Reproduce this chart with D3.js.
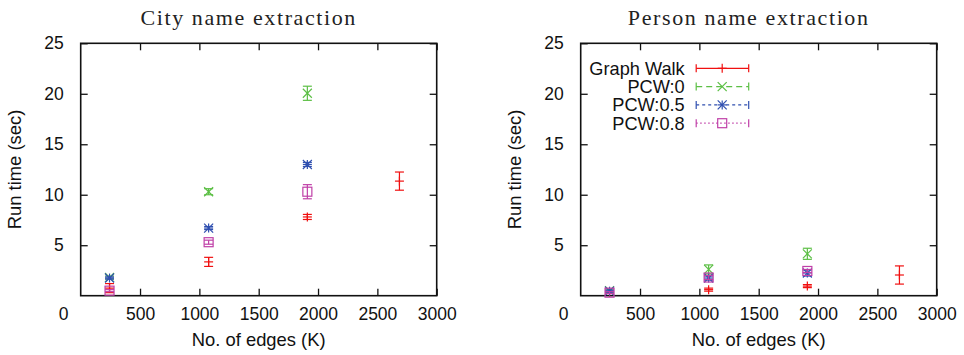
<!DOCTYPE html>
<html>
<head>
<meta charset="utf-8">
<script src="https://cdn.jsdelivr.net/npm/d3@7"></script>
<style>
  body { margin: 0; background: #fff; }
  svg text { font-family: "Liberation Sans", Arial, sans-serif; fill: #111; }
  .title { font-family: "Liberation Serif", "DejaVu Serif", serif; letter-spacing: 1.6px; fill: #222; }
</style>
</head>
<body>
<svg id="chart" width="964" height="355"></svg>
<script>
// x values (K edges) shared by both panels
const edges = [243, 1078, 1910, 2686];

// City name extraction: run time (sec) and error half-widths
const cityGW = [0.75, 3.35, 7.8, 11.35];
const cityGWErr = [0.45, 0.45, 0.25, 0.9];
const cityP0 = [1.8, 10.3, 20.05];
const cityP0Err = [0.15, 0.3, 0.7];
const cityP05 = [1.75, 6.7, 13.0];
const cityP05Err = [0.1, 0.15, 0.2];
const cityP08 = [0.5, 5.3, 10.3];
const cityP08Err = [0.1, 0.2, 0.7];

// Person name extraction
const personGW = [0.35, 0.6, 0.95, 2.05];
const personGWErr = [0.1, 0.15, 0.15, 0.9];
const personP0 = [0.5, 2.6, 4.15];
const personP0Err = [0.15, 0.45, 0.55];
const personP05 = [0.45, 1.75, 2.25];
const personP05Err = [0.1, 0.2, 0.3];
const personP08 = [0.3, 1.8, 2.45];
const personP08Err = [0.1, 0.2, 0.15];

const seriesNames = ["Graph Walk", "PCW:0", "PCW:0.5", "PCW:0.8"];
const seriesColors = ["#f01010", "#5cbf45", "#3050b0", "#c040a8"];
const seriesShapes = ["plus", "cross", "star", "square"];
const seriesDash = [null, "6,4", "3,3", "1.5,2.5"];

const xTicks = [500, 1000, 1500, 2000, 2500, 3000];
const yTicks = [5, 10, 15, 20, 25];

const panels = [
  { title: "City name extraction", left: 80.7,
    data: [[cityGW, cityGWErr], [cityP0, cityP0Err], [cityP05, cityP05Err], [cityP08, cityP08Err]] },
  { title: "Person name extraction", left: 580.7, legend: true,
    data: [[personGW, personGWErr], [personP0, personP0Err], [personP05, personP05Err], [personP08, personP08Err]] }
];

const W = 356, H = 252.4, plotTop = 43.3, tick = 7;
const svg = d3.select("#chart");

// draw one marker shape at 0,0
function marker(g, shape, color) {
  const s = 4.5;
  const line = (x1, y1, x2, y2) => g.append("line")
    .attr("x1", x1).attr("y1", y1).attr("x2", x2).attr("y2", y2)
    .attr("stroke", color).attr("stroke-width", 1.2);
  if (shape == "plus" || shape == "star") { line(-s, 0, s, 0); line(0, -s, 0, s); }
  if (shape == "cross" || shape == "star") { line(-s, -s, s, s); line(-s, s, s, -s); }
  if (shape == "square") {
    g.append("rect").attr("x", -s).attr("y", -s).attr("width", 2 * s).attr("height", 2 * s)
      .attr("fill", "none").attr("stroke", color).attr("stroke-width", 1.2);
  }
}

panels.forEach(p => {
  const x = d3.scaleLinear().domain([0, 3000]).range([0, W]);
  const y = d3.scaleLinear().domain([0, 25]).range([H, 0]);
  const g = svg.append("g").attr("transform", `translate(${p.left},${plotTop})`);

  // axes: ticks point inward, mirrored on top / right
  g.append("g").attr("transform", `translate(0,${H})`)
    .call(d3.axisBottom(x).tickValues(xTicks).tickSize(-tick).tickPadding(12).tickFormat(d3.format("d")));
  g.append("g").call(d3.axisTop(x).tickValues(xTicks).tickSize(-tick).tickFormat(""));
  g.append("g")
    .call(d3.axisLeft(y).tickValues(yTicks).tickSize(-tick).tickPadding(17).tickFormat(d3.format("d")));
  g.append("g").attr("transform", `translate(${W},0)`)
    .call(d3.axisRight(y).tickValues(yTicks).tickSize(-tick).tickFormat(""));
  g.selectAll(".domain").remove();
  g.selectAll(".tick line").attr("stroke", "#111").attr("stroke-width", 1.3);
  g.selectAll(".tick text").attr("font-size", 17.5).attr("fill", "#111")
    .attr("font-family", "Liberation Sans, Arial, sans-serif");
  g.append("rect").attr("width", W).attr("height", H)
    .attr("fill", "none").attr("stroke", "#111").attr("stroke-width", 1.6);

  // lone "0" label at the lower-left corner
  g.append("text").attr("x", -17).attr("y", H + 24.5).attr("text-anchor", "middle")
    .attr("font-size", 17.5).text("0");

  // title & axis labels
  g.append("text").attr("class", "title").attr("x", W / 2 - 10).attr("y", 25 - plotTop)
    .attr("text-anchor", "middle").attr("font-size", 22).text(p.title);
  g.append("text").attr("x", W / 2).attr("y", H + 50).attr("text-anchor", "middle")
    .attr("font-size", 18.4).text("No. of edges (K)");
  g.append("text").attr("transform", `translate(-60,${H / 2}) rotate(-90)`)
    .attr("text-anchor", "middle").attr("font-size", 18.4).text("Run time (sec)");

  // error bars + markers
  p.data.forEach(([vals, errs], si) => {
    const color = seriesColors[si];
    vals.forEach((v, i) => {
      const cx = x(edges[i]), e = errs[i], cap = 4.5;
      const pg = g.append("g");
      pg.append("line").attr("x1", cx).attr("x2", cx).attr("y1", y(v - e)).attr("y2", y(v + e))
        .attr("stroke", color).attr("stroke-width", 1.2);
      [v - e, v + e].forEach(ev => pg.append("line")
        .attr("x1", cx - cap).attr("x2", cx + cap).attr("y1", y(ev)).attr("y2", y(ev))
        .attr("stroke", color).attr("stroke-width", 1.2));
      marker(g.append("g").attr("transform", `translate(${cx},${y(v)})`), seriesShapes[si], color);
    });
  });

  if (p.legend) {
    const lg = g.append("g");
    seriesNames.forEach((name, i) => {
      const ly = 25 + i * 18.3;
      lg.append("text").attr("x", 104).attr("y", ly + 6.5).attr("text-anchor", "end")
        .attr("font-size", 18.2).text(name);
      lg.append("line").attr("x1", 115.5).attr("x2", 168).attr("y1", ly).attr("y2", ly)
        .attr("stroke", seriesColors[i]).attr("stroke-width", 1.2)
        .attr("stroke-dasharray", seriesDash[i]);
      [115.5, 168].forEach(ex => lg.append("line").attr("x1", ex).attr("x2", ex)
        .attr("y1", ly - 4).attr("y2", ly + 4).attr("stroke", seriesColors[i]).attr("stroke-width", 1.2));
      marker(lg.append("g").attr("transform", `translate(141.5,${ly})`), seriesShapes[i], seriesColors[i]);
    });
  }
});
</script>
</body>
</html>
